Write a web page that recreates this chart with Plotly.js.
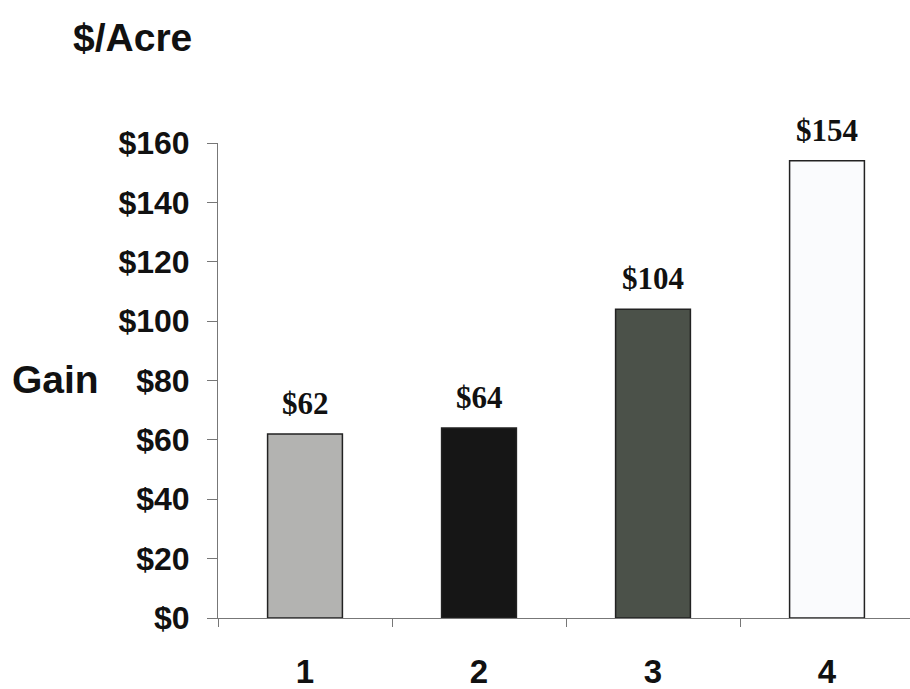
<!DOCTYPE html>
<html>
<head>
<meta charset="utf-8">
<script src="https://cdn.plot.ly/plotly-3.0.1.min.js"></script>
<style>html,body{margin:0;padding:0;background:#fff;}#chart{width:910px;height:689px;}</style>
</head>
<body>
<div id="chart"></div>
<script>
const categories = ["1", "2", "3", "4"];
const gainValues = [62, 64, 104, 154];
const barLabels = ["$62", "$64", "$104", "$154"];
const barColors = ["#b3b3b1", "#161616", "#4b5149", "#fafbfd"];
const yTickVals = [0, 20, 40, 60, 80, 100, 120, 140, 160];
const yTickText = ["$0", "$20", "$40", "$60", "$80", "$100", "$120", "$140", "$160"];

const trace = {
  type: "bar",
  x: categories,
  y: gainValues,
  marker: {color: barColors, line: {color: "#222", width: 1.5}},
  hoverinfo: "none"
};

const labelFont = {family: "Liberation Serif, Times New Roman, serif", size: 31, color: "#111", weight: "bold"};
// category axis: annotation x is the category index
const valueAnnotations = categories.map((c, i) => ({
  x: i, y: gainValues[i], xref: "x", yref: "y",
  text: barLabels[i], showarrow: false,
  xanchor: "center", yanchor: "bottom", yshift: 11,
  font: labelFont
}));

const layout = {
  width: 910, height: 689,
  margin: {l: 218, r: 0, t: 143, b: 71},
  paper_bgcolor: "#fff", plot_bgcolor: "#fff",
  showlegend: false,
  bargap: 0.57,
  font: {family: "Liberation Sans, Arial, sans-serif", color: "#111"},
  xaxis: {
    type: "category",
    range: [-0.5, 3.477],
    showgrid: false,
    zeroline: false,
    showline: true, linecolor: "#777", linewidth: 1,
    ticks: "outside", tickson: "boundaries", ticklen: 8, tickcolor: "#777",
    tickfont: {family: "Liberation Sans, Arial, sans-serif", size: 33, color: "#111", weight: "bold"},
    ticklabelstandoff: 24
  },
  yaxis: {
    range: [0, 160],
    tickvals: yTickVals, ticktext: yTickText,
    showgrid: false, zeroline: false,
    showline: true, linecolor: "#777", linewidth: 1,
    ticks: "outside", ticklen: 10, tickcolor: "#777",
    tickfont: {family: "Liberation Sans, Arial, sans-serif", size: 32, color: "#111", weight: "bold"},
    ticklabelstandoff: 11
  },
  annotations: [
    {text: "$/Acre", xref: "paper", yref: "paper", x: -0.124, y: 1.222, xanchor: "center", yanchor: "middle",
     showarrow: false, font: {family: "Liberation Sans, Arial, sans-serif", size: 39, color: "#111", weight: "bold"}},
    {text: "Gain", xref: "paper", yref: "paper", x: -0.235, y: 0.503, xanchor: "center", yanchor: "middle",
     showarrow: false, font: {family: "Liberation Sans, Arial, sans-serif", size: 39, color: "#111", weight: "bold"}}
  ].concat(valueAnnotations)
};

Plotly.newPlot("chart", [trace], layout, {staticPlot: true, displayModeBar: false});
</script>
</body>
</html>
